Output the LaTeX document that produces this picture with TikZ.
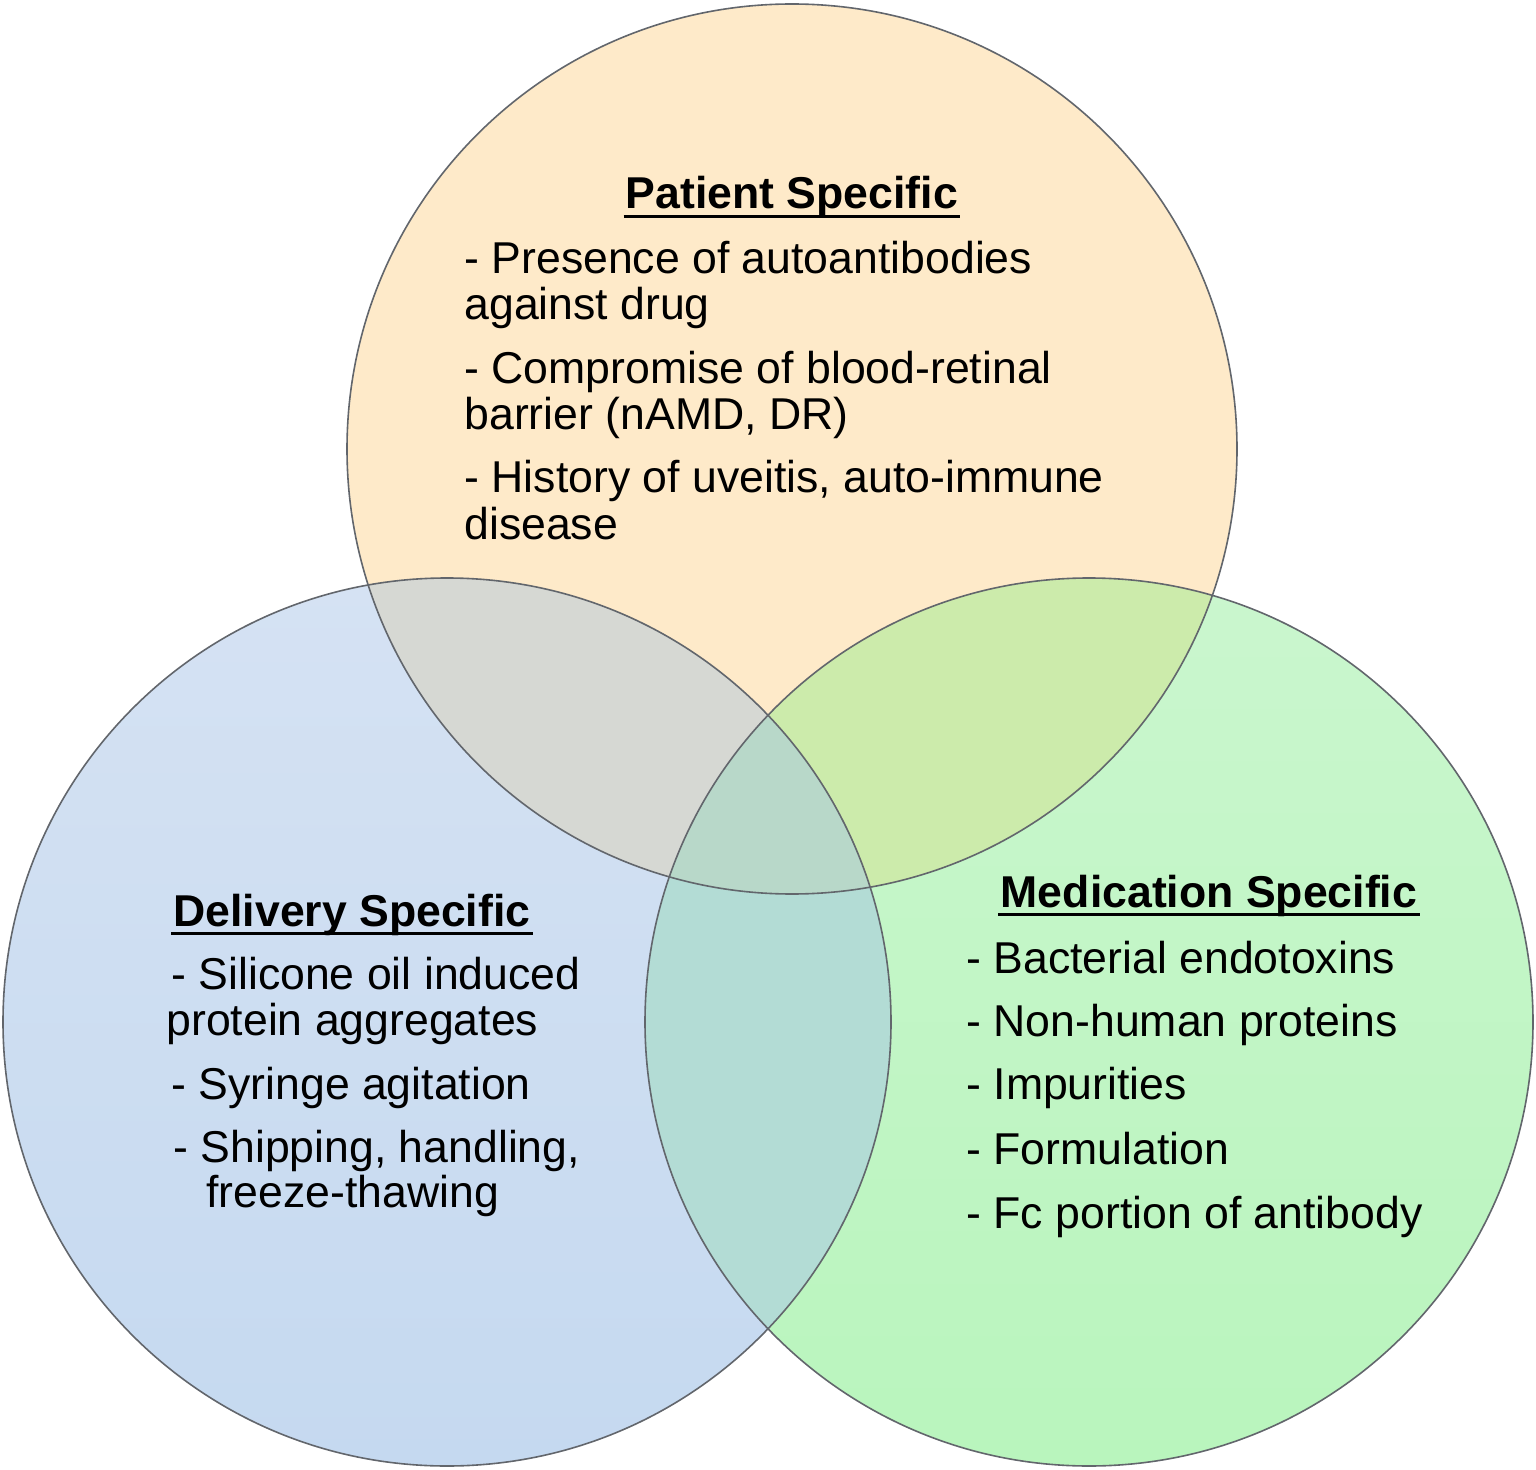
\documentclass[tikz,border=0pt]{standalone}
\usepackage{fontspec}
\setmainfont{Liberation Sans}
\usetikzlibrary{positioning}

\definecolor{patientfill}{HTML}{FEEAC9}
\definecolor{deliverytop}{HTML}{D5E2F3}
\definecolor{deliverybot}{HTML}{C5D9F0}
\definecolor{medtop}{HTML}{CAF6CE}
\definecolor{medbot}{HTML}{B9F5BD}
\definecolor{patdel}{HTML}{D6D8D3}
\definecolor{patmed}{HTML}{CCEBAB}
\definecolor{delmed}{HTML}{B3DCD5}
\definecolor{allthree}{HTML}{B8D8C9}
\definecolor{ringline}{HTML}{62666C}

\tikzset{
  ring/.style={draw=ringline, line width=0.8pt},
  headtext/.style={font=\fontsize{22.3}{23}\selectfont\bfseries, inner sep=0pt, anchor=base},
  itemtext/.style={font=\fontsize{22.3}{23}\selectfont, inner sep=0pt, anchor=base west},
  headline/.style={line width=1.5pt}
}

\begin{document}
\begin{tikzpicture}[x=0.5pt,y=-0.5pt]
\useasboundingbox (0,0) rectangle (1536,1470);

% the three circles
\coordinate (patient) at (792,449);
\coordinate (delivery) at (447,1022);
\coordinate (medication) at (1089,1022);

\fill[patientfill] (patient) circle (445);
\shade[top color=deliverytop, bottom color=deliverybot] (delivery) circle (444);
\shade[top color=medtop, bottom color=medbot] (medication) circle (444);

% overlaps
\begin{scope}
  \clip (patient) circle (445);
  \fill[patdel] (delivery) circle (444);
  \fill[patmed] (medication) circle (444);
\end{scope}
\begin{scope}
  \clip (delivery) circle (444);
  \fill[delmed] (medication) circle (444);
  \clip (patient) circle (445);
  \fill[allthree] (medication) circle (444);
\end{scope}

\draw[ring] (patient) circle (445);
\draw[ring] (delivery) circle (444);
\draw[ring] (medication) circle (444);

% patient specific
\node[headtext] (pathead) at (792,209) {Patient Specific};
\draw[headline] ([yshift=-3.6pt,xshift=-1pt]pathead.base west) -- ([yshift=-3.6pt,xshift=1pt]pathead.base east);
\node[itemtext] (pat1) at (464,274) {- Presence of autoantibodies};
\node[itemtext] (pat1b) at (464,320) {against drug};
\node[itemtext] (pat2) at (464,384) {- Compromise of blood-retinal};
\node[itemtext] (pat2b) at (464,430) {barrier (nAMD, DR)};
\node[itemtext] (pat3) at (464,493) {- History of uveitis, auto-immune};
\node[itemtext] (pat3b) at (464,539) {disease};

% delivery specific
\node[headtext] (delhead) at (352,926) {Delivery Specific};
\draw[headline] ([yshift=-3.6pt,xshift=-1pt]delhead.base west) -- ([yshift=-3.6pt,xshift=1pt]delhead.base east);
\node[itemtext] (del1) at (171,989) {- Silicone oil induced};
\node[itemtext] (del1b) at (166,1035) {protein aggregates};
\node[itemtext] (del2) at (171,1099) {- Syringe agitation};
\node[itemtext] (del3) at (173,1162) {- Shipping, handling,};
\node[itemtext] (del3b) at (206,1207) {freeze-thawing};

% medication specific
\node[headtext] (medhead) at (1209,907) {Medication Specific};
\draw[headline] ([yshift=-3.6pt,xshift=-1pt]medhead.base west) -- ([yshift=-3.6pt,xshift=1pt]medhead.base east);
\node[itemtext] (med1) at (966,973) {- Bacterial endotoxins};
\node[itemtext] (med2) at (966,1036) {- Non-human proteins};
\node[itemtext] (med3) at (966,1099) {- Impurities};
\node[itemtext] (med4) at (966,1164) {- Formulation};
\node[itemtext] (med5) at (966,1228) {- Fc portion of antibody};
\end{tikzpicture}
\end{document}
